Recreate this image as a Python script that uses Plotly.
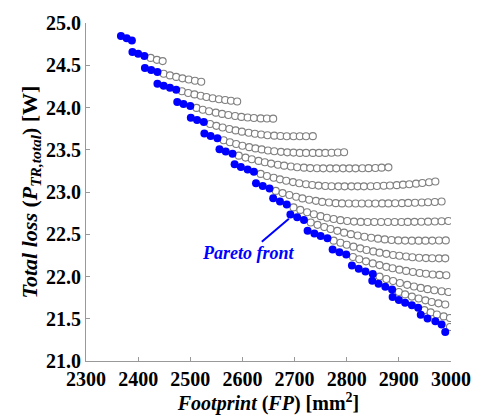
import plotly.graph_objects as go

# Design sweep: each row is one family of designs, ordered by footprint.
# The first n_pareto[i] designs of each row lie on the Pareto front.
fp_rows = [
    [2367, 2378, 2388],
    [2389, 2400, 2412, 2424, 2436, 2447],
    [2413, 2425, 2437, 2449, 2461, 2473, 2485, 2497, 2509, 2521],
    [2437, 2449, 2461, 2473, 2484, 2496, 2508, 2520, 2531, 2543, 2555, 2567, 2578, 2590],
    [2475, 2487, 2500, 2512, 2524, 2536, 2549, 2561, 2573, 2586, 2598, 2610, 2622, 2635, 2647, 2659],
    [2501, 2513, 2526, 2538, 2550, 2562, 2575, 2587, 2599, 2612, 2624, 2636, 2648, 2661, 2673, 2685,
     2698, 2710, 2722, 2735],
    [2527, 2539, 2552, 2564, 2576, 2588, 2600, 2613, 2625, 2637, 2649, 2661, 2674, 2686, 2698, 2710,
     2722, 2735, 2747, 2759, 2771, 2783, 2795],
    [2556, 2568, 2581, 2593, 2606, 2618, 2631, 2643, 2655, 2668, 2680, 2693, 2705, 2718, 2730, 2743,
     2755, 2768, 2780, 2793, 2805, 2817, 2830, 2842, 2855, 2867, 2880],
    [2585, 2597, 2610, 2622, 2635, 2647, 2660, 2672, 2684, 2697, 2709, 2722, 2734, 2746, 2759, 2771,
     2784, 2796, 2809, 2821, 2833, 2846, 2858, 2871, 2883, 2896, 2908, 2920, 2933, 2945, 2958, 2970],
    [2626, 2639, 2652, 2664, 2677, 2690, 2703, 2715, 2728, 2741, 2753, 2766, 2779, 2791, 2804, 2817,
     2829, 2842, 2855, 2868, 2880, 2893, 2906, 2918, 2931, 2944, 2956, 2969, 2982],
    [2659, 2672, 2685, 2698, 2711, 2724, 2737, 2750, 2762, 2775, 2788, 2801, 2814, 2827, 2840, 2853,
     2866, 2879, 2892, 2905, 2917, 2930, 2943, 2956, 2969, 2982, 2995],
    [2692, 2705, 2718, 2731, 2744, 2757, 2769, 2782, 2795, 2808, 2821, 2834, 2847, 2860, 2873, 2886,
     2899, 2912, 2925, 2938, 2951, 2964, 2977, 2990],
    [2725, 2738, 2750, 2763, 2775, 2788, 2800, 2813, 2826, 2838, 2851, 2863, 2876, 2889, 2901, 2914,
     2926, 2939, 2952, 2964, 2977, 2989],
    [2773, 2786, 2799, 2812, 2824, 2837, 2850, 2863, 2876, 2888, 2901, 2914, 2927, 2940, 2952, 2965,
     2978, 2991],
    [2810, 2823, 2836, 2850, 2863, 2876, 2889, 2902, 2916, 2929, 2942, 2955, 2968, 2982, 2995],
    [2849, 2861, 2874, 2887, 2900, 2912, 2925, 2938, 2951, 2963, 2976, 2989],
    [2888, 2900, 2912, 2925, 2937, 2949, 2961, 2973, 2986, 2998],
    [2942, 2955, 2970, 2982, 2998],
    [2989],
]

loss_rows = [
    [24.847, 24.821, 24.793],
    [24.656, 24.637, 24.610, 24.587, 24.564, 24.549],
    [24.468, 24.444, 24.421, 24.399, 24.380, 24.362, 24.345, 24.331, 24.317, 24.305],
    [24.281, 24.257, 24.233, 24.211, 24.192, 24.172, 24.155, 24.139, 24.124, 24.110, 24.098, 24.088,
     24.079, 24.071],
    [24.066, 24.041, 24.017, 23.995, 23.974, 23.956, 23.939, 23.924, 23.911, 23.900, 23.889, 23.881,
     23.876, 23.871, 23.869, 23.868],
    [23.879, 23.853, 23.827, 23.805, 23.783, 23.763, 23.745, 23.729, 23.714, 23.701, 23.690, 23.680,
     23.672, 23.667, 23.662, 23.660, 23.659, 23.659, 23.660, 23.661],
    [23.691, 23.662, 23.636, 23.612, 23.589, 23.568, 23.548, 23.531, 23.516, 23.504, 23.492, 23.483,
     23.475, 23.469, 23.466, 23.463, 23.463, 23.463, 23.463, 23.463, 23.465, 23.467, 23.470],
    [23.507, 23.479, 23.454, 23.430, 23.407, 23.388, 23.368, 23.352, 23.336, 23.323, 23.312, 23.301,
     23.293, 23.288, 23.283, 23.281, 23.280, 23.280, 23.280, 23.280, 23.280, 23.280, 23.281, 23.282,
     23.284, 23.288, 23.292],
    [23.328, 23.296, 23.267, 23.239, 23.214, 23.190, 23.169, 23.150, 23.133, 23.117, 23.104, 23.092,
     23.083, 23.076, 23.071, 23.068, 23.067, 23.067, 23.067, 23.067, 23.067, 23.068, 23.071, 23.074,
     23.077, 23.081, 23.087, 23.092, 23.099, 23.107, 23.115, 23.125],
    [23.105, 23.072, 23.041, 23.013, 22.987, 22.964, 22.943, 22.924, 22.909, 22.895, 22.883, 22.875,
     22.868, 22.865, 22.864, 22.864, 22.864, 22.864, 22.864, 22.865, 22.865, 22.867, 22.868, 22.871,
     22.873, 22.876, 22.879, 22.882, 22.887],
    [22.926, 22.887, 22.851, 22.818, 22.788, 22.760, 22.736, 22.714, 22.696, 22.680, 22.667, 22.657,
     22.650, 22.646, 22.645, 22.645, 22.645, 22.645, 22.645, 22.645, 22.646, 22.647, 22.648, 22.649,
     22.651, 22.654, 22.657],
    [22.734, 22.701, 22.669, 22.639, 22.611, 22.586, 22.562, 22.540, 22.519, 22.501, 22.485, 22.471,
     22.458, 22.448, 22.439, 22.432, 22.427, 22.425, 22.424, 22.424, 22.424, 22.425, 22.426, 22.427],
    [22.542, 22.510, 22.480, 22.452, 22.424, 22.399, 22.376, 22.353, 22.333, 22.314, 22.297, 22.282,
     22.268, 22.255, 22.245, 22.236, 22.228, 22.222, 22.218, 22.216, 22.215, 22.215],
    [22.321, 22.288, 22.259, 22.230, 22.204, 22.179, 22.155, 22.135, 22.114, 22.097, 22.081, 22.066,
     22.053, 22.042, 22.032, 22.024, 22.019, 22.014],
    [22.129, 22.093, 22.060, 22.029, 21.999, 21.971, 21.946, 21.923, 21.901, 21.882, 21.865, 21.850,
     21.837, 21.826, 21.816],
    [21.950, 21.913, 21.878, 21.846, 21.816, 21.788, 21.762, 21.739, 21.718, 21.699, 21.682, 21.668],
    [21.758, 21.721, 21.690, 21.660, 21.629, 21.602, 21.575, 21.551, 21.528, 21.509],
    [21.548, 21.502, 21.471, 21.433, 21.402],
    [21.344],
]

n_pareto = [3, 3, 3, 4, 3, 3, 3, 3, 4, 3, 3, 3, 4, 3, 4, 4, 5, 4, 1]

x_ticks = [2300, 2400, 2500, 2600, 2700, 2800, 2900, 3000]
y_ticks = [21.0, 21.5, 22.0, 22.5, 23.0, 23.5, 24.0, 24.5, 25.0]

# Split every row into front / dominated designs
front_x, front_y, other_x, other_y = [], [], [], []
for xs, ys, n in zip(fp_rows, loss_rows, n_pareto):
    front_x += xs[:n]
    front_y += ys[:n]
    other_x += xs[n:]
    other_y += ys[n:]

serif = "Liberation Serif"

fig = go.Figure()
fig.add_trace(go.Scatter(
    x=other_x, y=other_y, mode="markers", name="Designs",
    marker=dict(symbol="circle", size=7, color="white",
                line=dict(color="#7f7f7f", width=1.1)),
    showlegend=False,
))
fig.add_trace(go.Scatter(
    x=front_x, y=front_y, mode="markers", name="Pareto front",
    marker=dict(symbol="circle", size=8, color="#0000ff",
                line=dict(color="#0000ff", width=0)),
    showlegend=False,
))

# Label pointing at the front
fig.add_annotation(
    x=2692, y=22.70, xref="x", yref="y",
    text="<b><i>Pareto front</i></b>",
    font=dict(family=serif, size=18, color="#0000ff"),
    showarrow=True, arrowhead=0, arrowwidth=2, arrowcolor="#0000ff",
    ax=-42, ay=36, standoff=2,
)

axis_common = dict(
    showline=True, linecolor="#999999", linewidth=1,
    ticks="inside", ticklen=4, tickcolor="#999999", tickwidth=1,
    showgrid=False, zeroline=False, mirror=False,
    tickfont=dict(family=serif, size=20, color="black", weight="bold"),
)

fig.update_xaxes(
    range=[2300, 3000], tickvals=x_ticks,
    ticktext=[str(v) for v in x_ticks],
    title=dict(text="<b><i>Footprint</i> (<i>FP</i>) [mm<sup>2</sup>]</b>",
               font=dict(family=serif, size=20, color="black"), standoff=2),
    **axis_common,
)
fig.update_yaxes(
    range=[21, 25], tickvals=y_ticks,
    ticktext=[f"{v:.1f}" for v in y_ticks],
    title=dict(text="<b><i>Total loss</i> (<i>P</i><sub><i>TR,total</i></sub>) [W]</b>",
               font=dict(family=serif, size=22, color="black"), standoff=2),
    **axis_common,
)

fig.update_layout(
    width=483, height=419,
    margin=dict(l=86, r=25, t=13, b=58),
    paper_bgcolor="white", plot_bgcolor="white",
    font=dict(family=serif, color="black"),
    showlegend=False,
)

fig.write_html("out.html")
